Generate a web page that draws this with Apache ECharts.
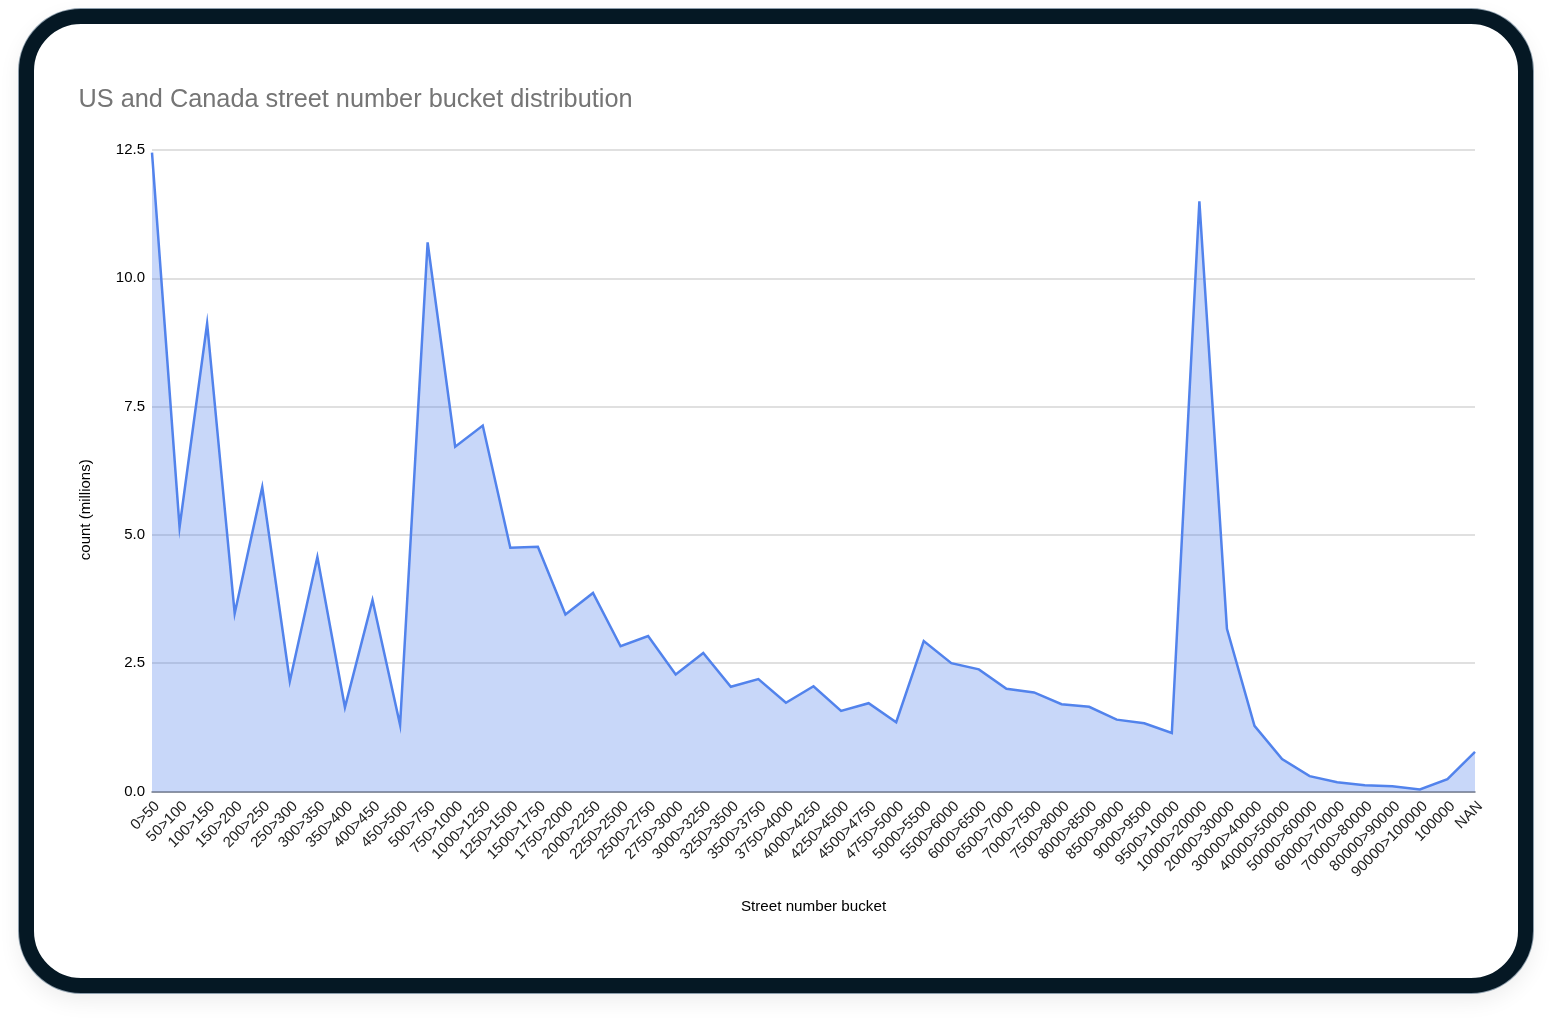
<!DOCTYPE html>
<html><head><meta charset="utf-8">
<style>
html,body{margin:0;padding:0;background:#fff;}
#frame{position:absolute;left:19px;top:9px;width:1484px;height:954px;border:15px solid #051824;border-radius:62px;background:#fff;box-shadow:0 0 0 1px #8c9dab,0 8px 22px rgba(0,0,0,.07);}
#c{position:absolute;left:0;top:0;width:1552px;height:1022px;}
</style>
<script src="https://cdn.jsdelivr.net/npm/echarts@6/dist/echarts.min.js"></script>
</head><body>
<div id="frame"></div>
<div id="c"></div>
<script>
const titleText = 'US and Canada street number bucket distribution';
const xName = 'Street number bucket';
const yName = 'count (millions)';
const categories = ['0>50','50>100','100>150','150>200','200>250','250>300','300>350','350>400','400>450','450>500','500>750','750>1000','1000>1250','1250>1500','1500>1750','1750>2000','2000>2250','2250>2500','2500>2750','2750>3000','3000>3250','3250>3500','3500>3750','3750>4000','4000>4250','4250>4500','4500>4750','4750>5000','5000>5500','5500>6000','6000>6500','6500>7000','7000>7500','7500>8000','8000>8500','8500>9000','9000>9500','9500>10000','10000>20000','20000>30000','30000>40000','40000>50000','50000>60000','60000>70000','70000>80000','80000>90000','90000>100000','100000','NAN'];
const counts = [12.45,5.15,9.12,3.47,5.93,2.15,4.57,1.64,3.73,1.3,10.7,6.72,7.13,4.75,4.77,3.45,3.87,2.83,3.03,2.28,2.7,2.04,2.19,1.73,2.05,1.57,1.72,1.35,2.93,2.5,2.38,2.0,1.93,1.7,1.65,1.4,1.33,1.14,11.5,3.17,1.28,0.63,0.3,0.18,0.12,0.1,0.04,0.24,0.77];
const font = '"Liberation Sans", Arial, sans-serif';
const chart = echarts.init(document.getElementById('c'), null, {renderer:'canvas'});
chart.setOption({
  animation:false,
  backgroundColor:'transparent',
  title:{text:titleText,left:78.5,top:88,padding:0,textStyle:{color:'#757575',fontFamily:font,fontSize:25.3,fontWeight:'normal'}},
  grid:{left:152,right:77,top:150,bottom:230.5,containLabel:false},
  xAxis:{type:'category',data:categories,boundaryGap:false,
    name:xName,nameLocation:'middle',nameGap:108,nameTextStyle:{color:'#000',fontFamily:font,fontSize:15.2},
    axisTick:{show:false},
    axisLine:{lineStyle:{color:'#737b8c',width:1.5}},
    axisLabel:{interval:0,rotate:45,align:'right',verticalAlign:'top',color:'#222',fontFamily:font,fontSize:15,margin:7,hideOverlap:false},
    splitLine:{show:false}},
  yAxis:{type:'value',min:0,max:12.5,interval:2.5,
    name:yName,nameLocation:'middle',nameGap:59,nameTextStyle:{color:'#000',fontFamily:font,fontSize:15,padding:[0,78,0,0]},
    axisLine:{show:false},axisTick:{show:false},
    axisLabel:{color:'#000',fontFamily:font,fontSize:15,margin:7,padding:[4,0,0,0],formatter:v=>v.toFixed(1)},
    splitLine:{lineStyle:{color:'#d6d6d6',width:1.5}}},
  series:[{type:'line',data:counts,symbol:'none',smooth:false,
    lineStyle:{color:'#5283ec',width:2.5,join:'miter',miterLimit:10},
    areaStyle:{color:'#4a7bea',opacity:0.3}}]
});
</script>
</body></html>
